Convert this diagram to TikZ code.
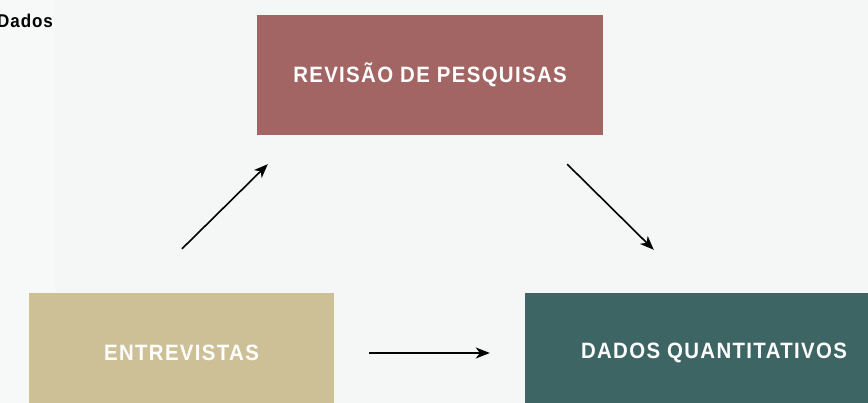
\documentclass[tikz,border=0pt]{standalone}
\usepackage{fontspec}
\setmainfont{Liberation Sans}
\newfontfamily\boxfont[FakeStretch=0.92,LetterSpace=6]{Liberation Sans Bold}
\newfontfamily\titfont[FakeStretch=0.92,LetterSpace=5]{Liberation Sans Bold}
\usetikzlibrary{arrows.meta,calc}
\definecolor{bgc}{HTML}{F5F6F6}
\definecolor{bgl}{HTML}{F7F8F8}
\definecolor{revc}{HTML}{A36564}
\definecolor{entc}{HTML}{CDBF96}
\definecolor{dqc}{HTML}{3D6564}
\tikzset{
  blockbox/.style={rectangle, inner sep=0pt, minimum height=120pt, text=white, font=\boxfont\fontsize{22.2}{26}\selectfont},
  arr/.style={line width=1.6pt, -{Stealth[length=14pt,width=11pt,inset=4pt]}}
}
\begin{document}
\begin{tikzpicture}[x=1pt,y=-1pt]
\useasboundingbox (0,0) rectangle (868,403);
\clip (0,0) rectangle (868,403);
\fill[bgc] (0,0) rectangle (868,403);
\fill[bgl] (0,0) rectangle (55,403);
\node[anchor=base west, inner sep=0pt, font=\titfont\fontsize{18.5}{21}\selectfont] (title) at (-3,27.5) {Dados};
\node[blockbox, fill=revc, minimum width=346pt] (rev) at (430,75) {REVISÃO DE PESQUISAS};
\node[blockbox, fill=entc, minimum width=305pt] (ent) at (181.5,353) {ENTREVISTAS};
\node[blockbox, fill=dqc, minimum width=378pt] (dq) at (714,353) {DADOS QUANTITATIVOS};
\draw[arr] ([xshift=0.5pt,yshift=44pt]ent.north) -- ([xshift=11pt,yshift=-29pt]rev.south west);
\draw[arr] ([xshift=-36pt,yshift=-29pt]rev.south east) -- ([xshift=129pt,yshift=43pt]dq.north west);
\draw[arr, shorten <=35pt, shorten >=35pt] (ent.east) -- (dq.west);
\end{tikzpicture}
\end{document}
